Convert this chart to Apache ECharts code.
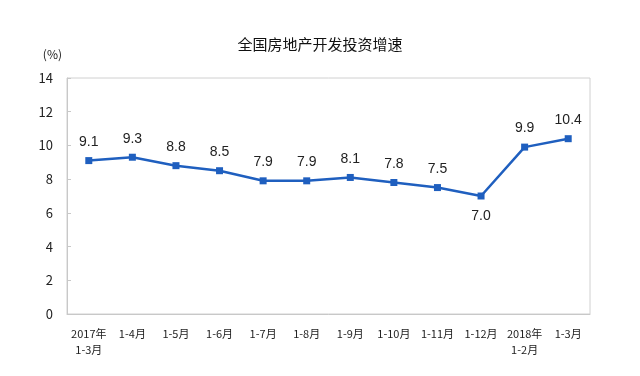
<!DOCTYPE html>
<html lang="zh">
<head>
    <meta charset="UTF-8">
    <title>全国房地产开发投资增速</title>
    <style>
        body { margin: 0; background: #fff; }
    </style>
    <script src="https://cdn.jsdelivr.net/npm/echarts@6/dist/echarts.min.js"></script>
</head>
<body>
    <div id="main" style="width:640px;height:376px"></div>
    <script>
        var categories = ['2017年\n1-3月', '1-4月', '1-5月', '1-6月', '1-7月', '1-8月',
            '1-9月', '1-10月', '1-11月', '1-12月', '2018年\n1-2月', '1-3月'];
        var growth = [9.1, 9.3, 8.8, 8.5, 7.9, 7.9, 8.1, 7.8, 7.5, 7.0, 9.9, 10.4];
        var yTicks = [0, 2, 4, 6, 8, 10, 12, 14];

        var font = '"Noto Sans CJK SC", "DejaVu Sans", sans-serif';
        var myChart = echarts.init(document.getElementById('main'));

        var points = growth.map(function (v, i) {
            var p = { value: v };
            // 1-12月 label sits below the point
            if (i === 9) p.label = { position: 'bottom', distance: 10 };
            return p;
        });

        var option = {
            backgroundColor: '#fff',
            title: {
                text: '全国房地产开发投资增速',
                left: 'center',
                top: 32,
                textStyle: { fontFamily: font, fontSize: 15, fontWeight: 'normal', color: '#111' }
            },
            grid: {
                left: 67, right: 50, top: 78, bottom: 62,
                show: true, borderColor: '#d0d0d0', borderWidth: 1
            },
            xAxis: {
                type: 'category',
                data: categories,
                boundaryGap: true,
                axisLine: { lineStyle: { color: '#c8c8c8' } },
                axisTick: { inside: true, length: 4, lineStyle: { color: '#c8c8c8' } },
                axisLabel: {
                    interval: 0, margin: 12, color: '#222',
                    fontFamily: font, fontSize: 11, lineHeight: 16
                }
            },
            yAxis: {
                type: 'value',
                min: yTicks[0], max: yTicks[yTicks.length - 1], interval: 2,
                name: '(%)',
                nameLocation: 'end',
                nameGap: 18,
                nameTextStyle: { color: '#222', fontFamily: font, fontSize: 12, align: 'right', padding: [0, 5, 0, 0] },
                splitLine: { show: false },
                axisLine: { show: true, lineStyle: { color: '#c8c8c8' } },
                axisTick: { show: true, inside: true, length: 4, lineStyle: { color: '#c8c8c8' } },
                axisLabel: { color: '#222', fontFamily: font, fontSize: 13, margin: 14 }
            },
            series: [{
                type: 'line',
                data: points,
                symbol: 'rect',
                symbolSize: 7,
                lineStyle: { color: '#1f5fbf', width: 2.5 },
                itemStyle: { color: '#1f5fbf' },
                label: {
                    show: true,
                    position: 'top',
                    distance: 8,
                    color: '#222',
                    fontFamily: '"Liberation Sans", Arial, sans-serif',
                    fontSize: 14,
                    formatter: function (p) { return p.value.toFixed(1); }
                },
                animation: false
            }]
        };
        myChart.setOption(option);
    </script>
</body>
</html>
